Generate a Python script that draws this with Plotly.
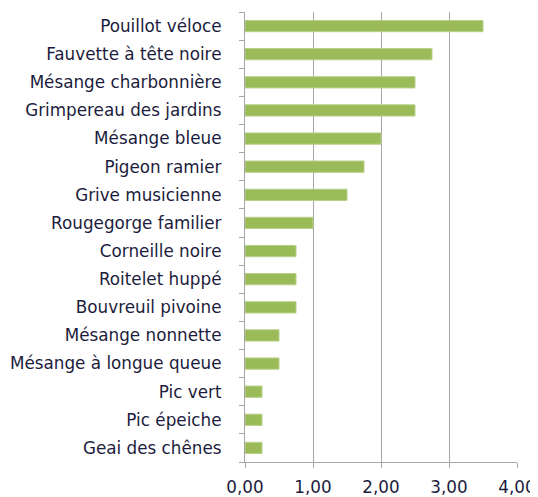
import plotly.graph_objects as go

species = [
    "Pouillot véloce", "Fauvette à tête noire", "Mésange charbonnière",
    "Grimpereau des jardins", "Mésange bleue", "Pigeon ramier",
    "Grive musicienne", "Rougegorge familier", "Corneille noire",
    "Roitelet huppé", "Bouvreuil pivoine", "Mésange nonnette",
    "Mésange à longue queue", "Pic vert", "Pic épeiche", "Geai des chênes",
]
values = [3.5, 2.75, 2.5, 2.5, 2.0, 1.75, 1.5, 1.0, 0.75, 0.75, 0.75,
          0.5, 0.5, 0.25, 0.25, 0.25]
x_ticks = [0, 1, 2, 3, 4]

fig = go.Figure(go.Bar(
    x=values, y=species, orientation="h",
    marker=dict(color="#9bbb59", line=dict(color="#b8d08a", width=1)),
    width=0.4,
))

# page body has an 8px margin; margins compensate so the plot area lands
# at x 245..517, y 12..462 in the window
fig.update_layout(
    width=538, height=497,
    margin=dict(l=237, r=29, t=4, b=43),
    plot_bgcolor="white", paper_bgcolor="white",
    separators=", ",
    font=dict(family="DejaVu Sans", size=16.8, color="#1c1c3c"),
    showlegend=False,
)
fig.update_xaxes(
    range=[0, 4], tickvals=x_ticks, tickformat=".2f",
    showgrid=True, gridcolor="#a6a6a6", gridwidth=1.3,
    showline=True, linecolor="#a6a6a6", linewidth=1.3,
    ticks="outside", ticklen=5, tickcolor="#a6a6a6",
    zeroline=False, automargin=False, ticklabelstandoff=5,
)
fig.update_yaxes(
    categoryorder="array", categoryarray=species[::-1],
    showline=True, linecolor="#a6a6a6", linewidth=1.3,
    ticks="outside", ticklen=5, tickcolor="#a6a6a6", tickson="boundaries",
    showgrid=False, ticklabelstandoff=19, automargin=False,
)

fig.write_html("out.html")
